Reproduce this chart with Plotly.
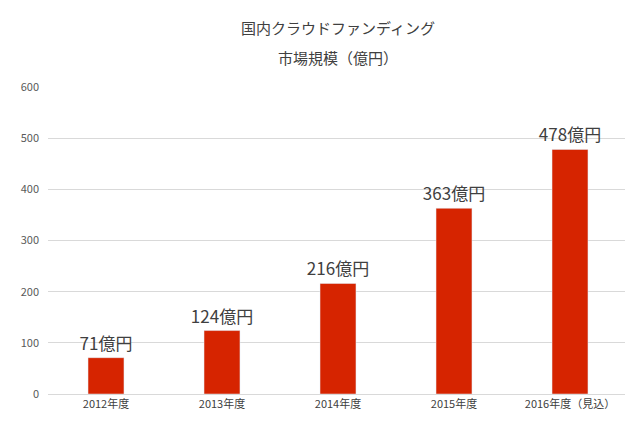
import plotly.graph_objects as go

categories = ["2012年度", "2013年度", "2014年度", "2015年度", "2016年度（見込）"]
values = [71, 124, 216, 363, 478]
labels = ["71億円", "124億円", "216億円", "363億円", "478億円"]

font = "Noto Sans CJK JP"
fig = go.Figure(go.Bar(
    x=categories, y=values, text=labels, textposition="outside",
    constraintext="none",
    textfont=dict(size=17, color="#404040", family=font),
    marker_color="#D62400", cliponaxis=False, width=0.31,
))
fig.update_layout(
    width=633, height=430, margin=dict(l=40, r=13, t=79, b=44),
    plot_bgcolor="white", paper_bgcolor="white", showlegend=False,
    font=dict(family=font, color="#595959"),
    yaxis=dict(range=[0, 600], dtick=100, gridcolor="#D9D9D9", zeroline=False,
               tickfont=dict(size=11, color="#595959"), ticks="", ticklabelstandoff=8),
    xaxis=dict(showline=True, linecolor="#D9D9D9", tickfont=dict(size=11, color="#404040")),
)
for txt, yy in [("国内クラウドファンディング", 20), ("市場規模（億円）", 50)]:
    fig.add_annotation(text=txt, xref="paper", yref="paper", x=0.5, xanchor="center",
                       y=1 + (79 - yy) / (430 - 79 - 44), yanchor="middle", showarrow=False,
                       font=dict(size=15, color="#404040", family=font))
fig.write_html("out.html")
